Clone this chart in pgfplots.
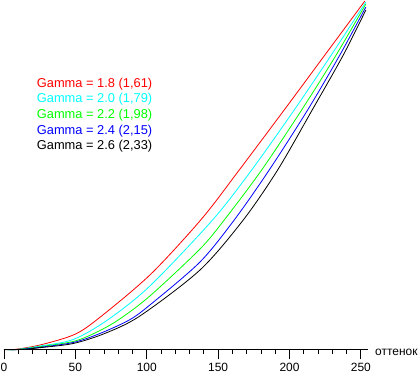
\documentclass[border=0pt]{standalone}
\usepackage{pgfplots}
\pgfplotsset{compat=1.18}
\usepackage{fontspec}
\setmainfont{Liberation Sans}
\definecolor{gred}{RGB}{255,0,0}
\definecolor{gcyan}{RGB}{0,255,255}
\definecolor{ggreen}{RGB}{0,255,0}
\definecolor{gblue}{RGB}{0,0,255}
\begin{document}
\begin{tikzpicture}
\begin{axis}[
  scale only axis,
  width=364bp, height=348.5bp,
  xmin=0, xmax=255, ymin=0, ymax=1,
  axis x line=bottom, axis y line=none,
  axis line style={-, line width=0.8bp, black},
  xtick={0,50,100,150,200,250},
  minor x tick num=4,
  tick align=outside,
  major tick length=10bp, minor tick length=5bp,
  every tick/.style={black, line width=0.8bp},
  tick label style={font=\fontsize{12}{14}\selectfont},
  /pgf/number format/assume math mode=true,
  clip=false,
  every axis plot/.append style={line width=0.8bp, mark=none, smooth, tension=0.5},
]
\addplot[gred] coordinates {(0,0) (7.0,0) (25.2,0.0129) (48.5,0.0416) (64.8,0.0846) (102.2,0.2138) (138.4,0.3745) (164.8,0.5151) (196.8,0.6901) (224.8,0.8451) (252.8,1.0)};
\addplot[gcyan] coordinates {(0,0) (8.4,0) (25.2,0.0100) (48.5,0.0287) (72.5,0.0846) (102.2,0.1822) (146.1,0.3716) (173.5,0.5151) (203.3,0.6872) (229.3,0.8451) (253.5,0.9971)};
\addplot[ggreen] coordinates {(0,0) (9.1,0) (25.2,0.0080) (48.5,0.0230) (63.7,0.0473) (80.0,0.0846) (102.2,0.1535) (137.3,0.2884) (154.3,0.3716) (180.5,0.5151) (208.5,0.6872) (232.7,0.8451) (253.5,0.9914)};
\addplot[gblue] coordinates {(0,0) (10.5,0) (25.2,0.0063) (48.5,0.0201) (67.2,0.0459) (87.7,0.0846) (102.2,0.1277) (137.3,0.2511) (161.8,0.3745) (185.8,0.5151) (212.7,0.6872) (235.3,0.8451) (253.5,0.9828)};
\addplot[black] coordinates {(0,0) (12.6,0) (25.2,0.0052) (48.5,0.0172) (70.7,0.0462) (95.2,0.0961) (137.3,0.2281) (167.6,0.3716) (191.7,0.5151) (215.9,0.6872) (237.7,0.8451) (253.5,0.9742)};
\node[anchor=base west, inner sep=0, xshift=7bp, yshift=-6bp, font=\fontsize{12}{14}\selectfont] at (axis cs:255,0) {оттенок};
\end{axis}
\begin{scope}[every node/.style={anchor=base west, inner sep=0, font=\fontsize{12.9}{15}\selectfont}]
\node[text=gred]   at (32.7bp,262.3bp) {Gamma = 1.8 (1,61)};
\node[text=gcyan]  at (32.7bp,246.6bp) {Gamma = 2.0 (1,79)};
\node[text=ggreen] at (32.7bp,230.9bp) {Gamma = 2.2 (1,98)};
\node[text=gblue]  at (32.7bp,215.2bp) {Gamma = 2.4 (2,15)};
\node[text=black]  at (32.7bp,199.5bp) {Gamma = 2.6 (2,33)};
\end{scope}
\pgfresetboundingbox
\path (-4bp,-26.5bp) rectangle (414bp,349.5bp);
\end{tikzpicture}
\end{document}
